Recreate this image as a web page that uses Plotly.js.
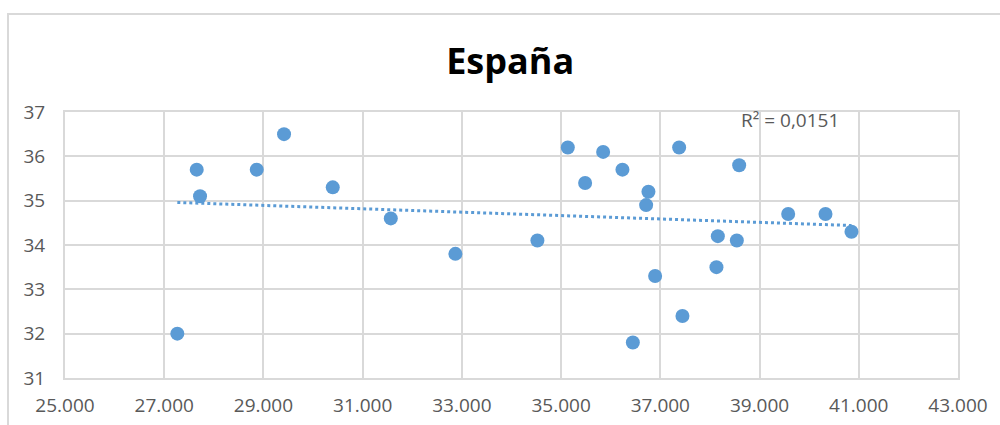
<!DOCTYPE html>
<html>
<head>
<meta charset="utf-8">
<script src="https://cdn.plot.ly/plotly-3.0.1.min.js"></script>
<style>
html,body{margin:0;padding:0;background:#fff;}
#wrap{position:relative;width:1000px;height:425px;overflow:hidden;}
#chart{position:absolute;left:0;top:0;width:1000px;height:425px;}
#frame{position:absolute;left:7px;top:13px;width:1200px;height:600px;border-top:2px solid #d9d9d9;border-left:2px solid #d9d9d9;pointer-events:none;}
</style>
</head>
<body>
<div id="wrap"><div id="chart"></div><div id="frame"></div></div>
<script>
// Data
const chartTitle = "España";
const xValues = [27264, 27655, 27722, 28865, 29415, 30397, 31567, 32869,
                 34522, 35135, 35484, 35847, 36236, 36446, 36760, 36714,
                 36895, 37379, 37446, 38131, 38159, 38542, 38589, 39577,
                 40329, 40853];
const yValues = [32.0, 35.7, 35.1, 35.7, 36.5, 35.3, 34.6, 33.8,
                 34.1, 36.2, 35.4, 36.1, 35.7, 31.8, 35.2, 34.9,
                 33.3, 36.2, 32.4, 33.5, 34.2, 34.1, 35.8, 34.7,
                 34.7, 34.3];
const xTickVals = [25000, 27000, 29000, 31000, 33000, 35000, 37000, 39000, 41000, 43000];
const xTickText = ["25.000", "27.000", "29.000", "31.000", "33.000", "35.000", "37.000", "39.000", "41.000", "43.000"];
const yTickVals = [31, 32, 33, 34, 35, 36, 37];
const r2Label = "R² = 0,0151";

// Linear least-squares trendline (Excel style, spans data x range)
const n = xValues.length;
const mx = xValues.reduce((a,b)=>a+b,0)/n;
const my = yValues.reduce((a,b)=>a+b,0)/n;
let sxy = 0, sxx = 0;
for (let i=0;i<n;i++){ sxy += (xValues[i]-mx)*(yValues[i]-my); sxx += (xValues[i]-mx)**2; }
const slope = sxy/sxx, intercept = my - slope*mx;
const xmin = Math.min(...xValues), xmax = Math.max(...xValues);
const trendX = [xmin, xmax];
const trendY = trendX.map(x => intercept + slope*x);

const blue = "#5b9bd5";
const grid = "#d9d9d9";
const tickFont = {family: "Open Sans, Noto Sans, sans-serif", size: 19, color: "#595959"};

const traces = [
  {x: trendX, y: trendY, type: "scatter", mode: "lines",
   line: {color: blue, width: 3, dash: "dot"}, hoverinfo: "skip", showlegend: false},
  {x: xValues, y: yValues, type: "scatter", mode: "markers",
   marker: {color: blue, size: 14}, showlegend: false}
];

const layout = {
  width: 1000, height: 425,
  margin: {l: 65, r: 42, t: 112, b: 47},
  paper_bgcolor: "#fff", plot_bgcolor: "#fff",
  title: {text: "<b>" + chartTitle + "</b>", x: 0.4985, xanchor: "center", xref: "paper",
          y: 1 - 61/425, yanchor: "middle",
          font: {family: "Open Sans, Noto Sans, sans-serif", size: 36, color: "#000"}},
  xaxis: {range: [25000, 43000], tickvals: xTickVals, ticktext: xTickText,
          showgrid: true, gridcolor: grid, gridwidth: 2, zeroline: false,
          showline: true, linecolor: grid, linewidth: 2, mirror: true,
          ticks: "", tickfont: tickFont, ticklabelstandoff: 9, fixedrange: true},
  yaxis: {range: [31, 37], tickvals: yTickVals,
          showgrid: true, gridcolor: grid, gridwidth: 2, zeroline: false,
          showline: true, linecolor: grid, linewidth: 2, mirror: true,
          ticks: "", tickfont: tickFont, ticklabelstandoff: 14, fixedrange: true},
  annotations: [{text: r2Label, xref: "paper", yref: "paper",
                 x: (739-65)/893, y: (378-120)/266, xanchor: "left", yanchor: "middle",
                 showarrow: false, font: {family: "Open Sans, Noto Sans, sans-serif", size: 19, color: "#595959"}}]
};

Plotly.newPlot("chart", traces, layout, {displayModeBar: false, staticPlot: true});
</script>
</body>
</html>
